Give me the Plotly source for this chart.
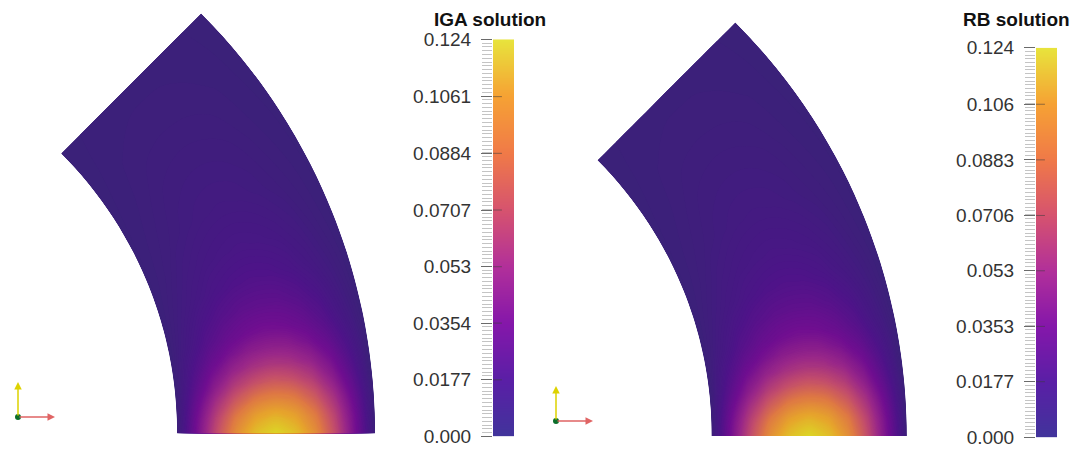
import math
import plotly.graph_objects as go

# ---------------- data ----------------
# polar grid of the annular sector (radius, angle in degrees)
R_VALUES = [1.0, 1.05, 1.1, 1.15, 1.2, 1.25, 1.3, 1.35, 1.4, 1.45, 1.5]
THETA_DEG = [0, 2, 4, 6, 8, 10, 12, 15, 18, 22, 27, 33, 39, 45]

# solution values: rows follow THETA_DEG, columns follow R_VALUES
IGA_SOLUTION = [
    [0.004, 0.038, 0.071, 0.098, 0.116, 0.124, 0.116, 0.098, 0.071, 0.038, 0.004],
    [0.003, 0.036, 0.066, 0.090, 0.105, 0.111, 0.105, 0.090, 0.066, 0.036, 0.003],
    [0.003, 0.031, 0.057, 0.077, 0.090, 0.094, 0.090, 0.077, 0.057, 0.031, 0.003],
    [0.002, 0.025, 0.046, 0.063, 0.073, 0.077, 0.073, 0.063, 0.046, 0.025, 0.002],
    [0.002, 0.020, 0.037, 0.050, 0.058, 0.061, 0.058, 0.050, 0.037, 0.020, 0.002],
    [0.002, 0.016, 0.029, 0.039, 0.046, 0.048, 0.046, 0.039, 0.029, 0.016, 0.002],
    [0.002, 0.012, 0.023, 0.031, 0.036, 0.038, 0.036, 0.031, 0.023, 0.012, 0.002],
    [0.002, 0.009, 0.017, 0.023, 0.027, 0.028, 0.027, 0.023, 0.017, 0.009, 0.002],
    [0.002, 0.007, 0.012, 0.017, 0.020, 0.021, 0.020, 0.017, 0.012, 0.007, 0.002],
    [0.002, 0.005, 0.009, 0.012, 0.014, 0.015, 0.014, 0.012, 0.009, 0.005, 0.002],
    [0.002, 0.004, 0.006, 0.008, 0.0095, 0.010, 0.0095, 0.008, 0.006, 0.004, 0.002],
    [0.002, 0.003, 0.0045, 0.006, 0.0067, 0.007, 0.0067, 0.006, 0.0045, 0.003, 0.002],
    [0.002, 0.0025, 0.0035, 0.004, 0.0044, 0.0045, 0.0044, 0.004, 0.0035, 0.0025, 0.002],
    [0.002, 0.0023, 0.0026, 0.0028, 0.003, 0.003, 0.003, 0.0028, 0.0026, 0.0023, 0.002],
]
RB_SOLUTION = [
    [0.004, 0.038, 0.071, 0.098, 0.116, 0.124, 0.116, 0.098, 0.071, 0.038, 0.004],
    [0.003, 0.036, 0.066, 0.090, 0.105, 0.111, 0.105, 0.090, 0.066, 0.036, 0.003],
    [0.003, 0.031, 0.057, 0.077, 0.090, 0.094, 0.090, 0.077, 0.057, 0.031, 0.003],
    [0.002, 0.025, 0.046, 0.063, 0.073, 0.077, 0.073, 0.063, 0.046, 0.025, 0.002],
    [0.002, 0.020, 0.037, 0.050, 0.058, 0.061, 0.058, 0.050, 0.037, 0.020, 0.002],
    [0.002, 0.016, 0.029, 0.039, 0.046, 0.048, 0.046, 0.039, 0.029, 0.016, 0.002],
    [0.002, 0.012, 0.023, 0.031, 0.036, 0.038, 0.036, 0.031, 0.023, 0.012, 0.002],
    [0.002, 0.009, 0.017, 0.023, 0.027, 0.028, 0.027, 0.023, 0.017, 0.009, 0.002],
    [0.002, 0.007, 0.012, 0.017, 0.020, 0.021, 0.020, 0.017, 0.012, 0.007, 0.002],
    [0.002, 0.005, 0.009, 0.012, 0.014, 0.015, 0.014, 0.012, 0.009, 0.005, 0.002],
    [0.002, 0.004, 0.006, 0.008, 0.0095, 0.010, 0.0095, 0.008, 0.006, 0.004, 0.002],
    [0.002, 0.003, 0.0045, 0.006, 0.0067, 0.007, 0.0067, 0.006, 0.0045, 0.003, 0.002],
    [0.002, 0.0025, 0.0035, 0.004, 0.0044, 0.0045, 0.0044, 0.004, 0.0035, 0.0025, 0.002],
    [0.002, 0.0023, 0.0026, 0.0028, 0.003, 0.003, 0.003, 0.0028, 0.0026, 0.0023, 0.002],
]

IGA_TICKS = [0.0, 0.0177, 0.0354, 0.053, 0.0707, 0.0884, 0.1061, 0.124]
IGA_TICK_TEXT = ["0.000", "0.0177", "0.0354", "0.053", "0.0707", "0.0884", "0.1061", "0.124"]
RB_TICKS = [0.0, 0.0177, 0.0353, 0.053, 0.0706, 0.0883, 0.106, 0.124]
RB_TICK_TEXT = ["0.000", "0.0177", "0.0353", "0.053", "0.0706", "0.0883", "0.106", "0.124"]
VALUE_RANGE = [0.0, 0.124]

# ---------------- styles ----------------
W, H = 1076, 450
FONT = "Liberation Sans, Arial, sans-serif"
BAR_SCALE = [
    [0.0, "#41349b"], [0.143, "#5a1fa6"], [0.286, "#8517aa"], [0.428, "#b2309a"],
    [0.571, "#d6536f"], [0.714, "#f07a48"], [0.857, "#f6a234"], [1.0, "#e8e43c"],
]
# surface colours appear slightly darker (lit surface)
FIELD_SCALE = [
    [0.0, "#3a2278"], [0.143, "#4c1488"], [0.286, "#700e90"], [0.428, "#9a2888"],
    [0.571, "#c24c6c"], [0.714, "#de7844"], [0.857, "#e6a42c"], [1.0, "#dcd626"],
]

PANELS = [
    dict(z=IGA_SOLUTION, ticks=IGA_TICKS, text=IGA_TICK_TEXT, title="IGA solution",
         xdom=[0.0, 0.45], cx=-218.7, cy=433.3, s=395.8,
         bar=(493, 514, 39.3, 436.5), title_xy=(490, 20), triad=(18, 417)),
    dict(z=RB_SOLUTION, ticks=RB_TICKS, text=RB_TICK_TEXT, title="RB solution",
         xdom=[0.5, 0.95], cx=321.8, cy=436.0, s=389.9,
         bar=(1036, 1057, 47.7, 437.3), title_xy=(1016, 20), triad=(556, 421)),
]

fig = go.Figure()
layout = dict(template="none", width=W, height=H,
              margin=dict(l=0, r=0, t=0, b=0, pad=0, autoexpand=False),
              paper_bgcolor="white", plot_bgcolor="white", showlegend=False,
              annotations=[], shapes=[])

hidden_carpet_axis = dict(showgrid=False, showline=False, showticklabels="none",
                          startline=False, endline=False, minorgridcount=0,
                          smoothing=1, gridcolor="rgba(0,0,0,0)")

for i, p in enumerate(PANELS):
    fx, fy = ("x", "y") if i == 0 else ("x2", "y2")
    bx, by = ("x3", "y3") if i == 0 else ("x4", "y4")
    fxl, fyl = "xaxis" + fx[1:], "yaxis" + fy[1:]
    bxl, byl = "xaxis" + bx[1:], "yaxis" + by[1:]

    # carpet geometry from the polar grid
    xs = [[r * math.cos(math.radians(t)) for r in R_VALUES] for t in THETA_DEG]
    ys = [[r * math.sin(math.radians(t)) for r in R_VALUES] for t in THETA_DEG]
    cid = "c%d" % i
    fig.add_trace(go.Carpet(a=R_VALUES, b=THETA_DEG, x=xs, y=ys, carpet=cid,
                            xaxis=fx, yaxis=fy,
                            aaxis=hidden_carpet_axis, baxis=hidden_carpet_axis))
    fig.add_trace(go.Contourcarpet(
        a=R_VALUES, b=THETA_DEG, z=p["z"], carpet=cid, xaxis=fx, yaxis=fy,
        autocontour=False,
        contours=dict(start=0.0012, end=0.1236, size=0.0012, coloring="fill", showlines=False),
        line=dict(width=0), colorscale=FIELD_SCALE, zauto=False,
        zmin=VALUE_RANGE[0], zmax=VALUE_RANGE[1], showscale=False))

    # field axes: equal scale, anchored to pixel positions
    d0, d1 = p["xdom"]
    layout[fxl] = dict(domain=[d0, d1], range=[(d0 * W - p["cx"]) / p["s"], (d1 * W - p["cx"]) / p["s"]],
                       visible=False, anchor=fy, automargin=False)
    layout[fyl] = dict(domain=[0, 1], range=[(p["cy"] - H) / p["s"], p["cy"] / p["s"]],
                       visible=False, anchor=fx, automargin=False)

    # colour bar drawn as a smooth heatmap between the tick values
    xl, xr, yt, yb = p["bar"]
    fig.add_trace(go.Heatmap(x=[0, 1], y=p["ticks"], z=[[v, v] for v in p["ticks"]],
                             zsmooth="best", colorscale=BAR_SCALE, zmin=VALUE_RANGE[0],
                             zmax=VALUE_RANGE[1], showscale=False, xaxis=bx, yaxis=by,
                             hoverinfo="skip"))
    layout[bxl] = dict(domain=[xl / W, xr / W], range=[-0.5, 1.5], visible=False,
                       anchor=by, automargin=False)
    layout[byl] = dict(domain=[1 - yb / H, 1 - yt / H], range=VALUE_RANGE, anchor=bx,
                       automargin=False,
                       side="left", showgrid=False, zeroline=False, showline=False,
                       tickmode="array", tickvals=p["ticks"], ticktext=p["text"],
                       ticks="outside", ticklen=11, tickwidth=1, tickcolor="#6a6a6a",
                       ticklabelstandoff=6,
                       tickfont=dict(family=FONT, size=19, color="#333333"),
                       minor=dict(tickmode="linear", tick0=0, dtick=VALUE_RANGE[1] / 105,
                                  ticks="outside", ticklen=10, tickwidth=1,
                                  tickcolor="#c4c4c4", showgrid=False))
    for v in p["ticks"][1:-1]:
        layout["shapes"].append(dict(type="line", xref=bx, yref=by, x0=-0.5, x1=0.35,
                                     y0=v, y1=v, layer="above",
                                     line=dict(color="rgba(60,60,60,0.55)", width=1)))

    tx, ty = p["title_xy"]
    layout["annotations"].append(dict(xref="paper", yref="paper", x=tx / W, y=1 - ty / H,
                                      text="<b>%s</b>" % p["title"], showarrow=False,
                                      xanchor="center", yanchor="middle",
                                      font=dict(family=FONT, size=19, color="#111111")))

    # orientation triad
    ox, oy = p["triad"]
    layout["annotations"].append(dict(xref="paper", yref="paper", x=ox / W, y=1 - (oy - 35) / H,
                                      ax=0, ay=35, text="", showarrow=True, arrowhead=2,
                                      arrowsize=1, arrowwidth=1.5, arrowcolor="#ddd200"))
    layout["annotations"].append(dict(xref="paper", yref="paper", x=(ox + 37) / W, y=1 - oy / H,
                                      ax=-37, ay=0, text="", showarrow=True, arrowhead=2,
                                      arrowsize=1, arrowwidth=1.5, arrowcolor="#e06464"))
    layout["shapes"].append(dict(type="circle", xref="paper", yref="paper",
                                 x0=(ox - 3) / W, x1=(ox + 3) / W,
                                 y0=1 - (oy + 3) / H, y1=1 - (oy - 3) / H,
                                 fillcolor="#0b6e2a", line=dict(width=0)))

fig.update_layout(**layout)
fig.write_html("out.html", config={"displayModeBar": False, "staticPlot": True},
               post_script="document.body.style.margin='0';document.body.style.overflow='hidden';")
